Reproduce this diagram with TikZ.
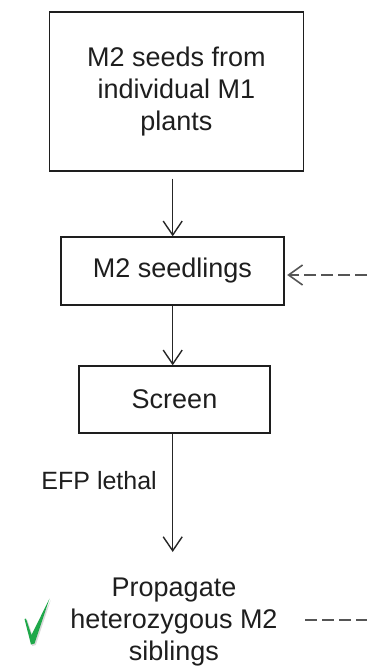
\documentclass[tikz,border=0pt]{standalone}
\usepackage{fontspec}
\setmainfont{Liberation Sans}
\usetikzlibrary{arrows.meta,calc}
\definecolor{inkgray}{HTML}{1E1E1E}
\definecolor{linkgray}{HTML}{262626}
\definecolor{dashgray}{HTML}{555555}
\definecolor{tickgreen}{HTML}{1FA84A}
\tikzset{
  stepbox/.style={draw=inkgray, line width=1.4pt, inner sep=0pt, align=center,
    text=inkgray, font=\fontsize{27}{32}\selectfont},
  plaintext/.style={inner sep=0pt, align=center, text=inkgray,
    font=\fontsize{27}{32}\selectfont},
  flow/.style={draw=linkgray, line width=1.5pt,
    -{Straight Barb[length=14pt,width=19pt,line width=1.4pt]}},
  loopback/.style={draw=dashgray, line width=2pt, dash pattern=on 12pt off 5pt},
}
\begin{document}
\begin{tikzpicture}[x=1pt,y=-1pt]
\useasboundingbox (0,0) rectangle (367,666);

% boxes of the flow
\node[stepbox, minimum width=254pt, minimum height=159pt] (seeds) at (176.3,91.5)
  {M2 seeds from\\individual M1\\plants};
\node[stepbox, minimum width=223pt, minimum height=68pt] (seedlings) at (172.5,271)
  {M2 seedlings};
\node[stepbox, minimum width=191pt, minimum height=67pt] (screen) at (174.5,399.5)
  {Screen};
\node[plaintext] (propagate) at (174,621.7)
  {Propagate\\heterozygous M2\\siblings};

% helper points
\coordinate (axis) at (172.7,0);
\coordinate (tip) at (172.7,552);
\coordinate (retIn) at (367,275);
\coordinate (retOut) at (305,619.5);
\coordinate (retEnd) at (367,619.5);

% solid connectors
\draw[flow] ([yshift=-7pt]seeds.south -| axis) -- (seedlings.north -| axis);
\draw[flow] (seedlings.south -| axis) -- (screen.north -| axis);
\draw[flow] (screen.south -| axis) -- (tip);
\node[anchor=base east, inner sep=0pt, text=inkgray,
  font=\fontsize{25}{30}\selectfont] (lethal) at (157,489.3) {EFP lethal};

% dashed loop back to the seedlings
\draw[loopback, -{Straight Barb[length=14pt,width=20pt,line width=1.6pt]}, shorten >=2.5pt]
  (retIn) -- (retIn -| seedlings.east);
\draw[loopback] (retOut) -- (retEnd);

% tick mark with a faint shadow
\fill[black!25, opacity=0.6]
  (25.8,620.5) -- (32.3,646) -- (35.8,645) -- (50.8,600) -- (32.8,636.5) -- (27.3,620) -- cycle;
\fill[tickgreen]
  (24.5,619) -- (31,644.5) -- (34.5,643.5) -- (49.5,598.5) -- (31.5,635) -- (26,618.5) -- cycle;
\end{tikzpicture}
\end{document}
